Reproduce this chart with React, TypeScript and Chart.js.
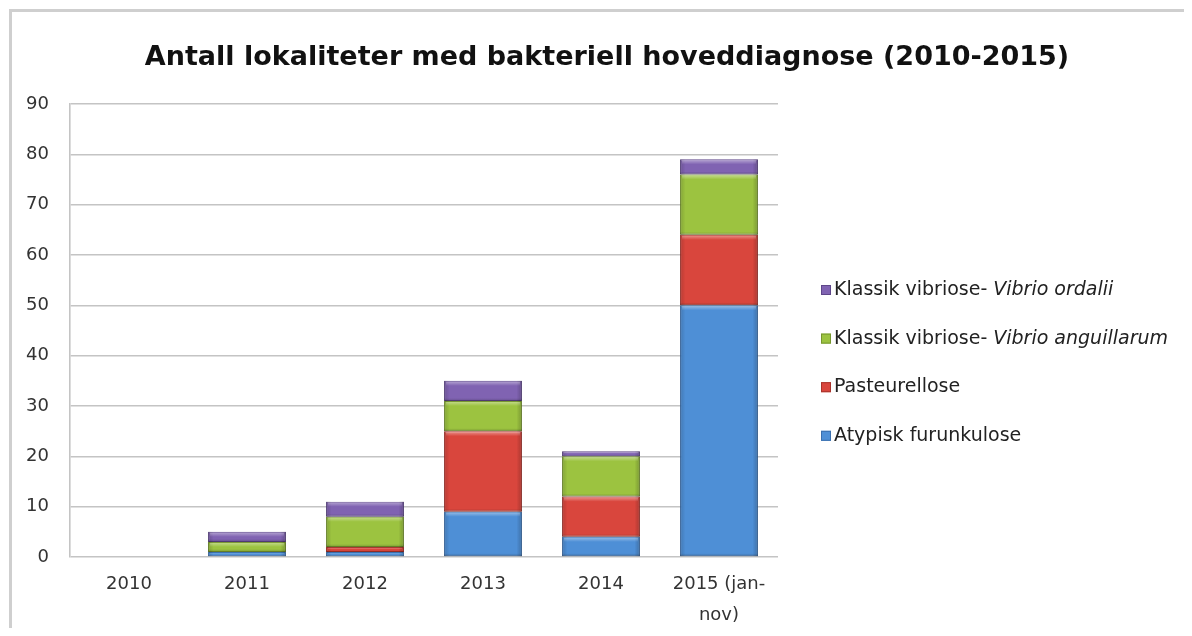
import React, { useEffect, useRef } from "react";
import { Chart, registerables } from "chart.js";

Chart.register(...registerables);

// ---- data ----
const categories: (string | string[])[] = ["2010", "2011", "2012", "2013", "2014", ["2015 (jan-", "nov)"]];
const atypiskFurunkulose = [0, 1, 1, 9, 4, 50];
const pasteurellose = [0, 0, 1, 16, 8, 14];
const vibrioAnguillarum = [0, 2, 6, 6, 8, 12];
const vibrioOrdalii = [0, 2, 3, 4, 1, 3];
const yMin = 0;
const yMax = 90;
const yStep = 10;
const titleText = "Antall lokaliteter med bakteriell hoveddiagnose (2010-2015)";
// legend entries (top to bottom): [normal part, italic part]
const legendNormal = ["Klassik vibriose- ", "Klassik vibriose- ", "Pasteurellose", "Atypisk furunkulose"];
const legendItalic = ["Vibrio ordalii", "Vibrio anguillarum", "", ""];

const FONT = "'DejaVu Sans', sans-serif";
const COLORS = {
  blue: "#4e8fd6",
  blueB: "#3a6fae",
  red: "#d9463d",
  redB: "#a8332c",
  green: "#9cc340",
  greenB: "#76952e",
  purple: "#8063b2",
  purpleB: "#5e4689",
};
const legendColors = [COLORS.purple, COLORS.green, COLORS.red, COLORS.blue];
const legendBorders = [COLORS.purpleB, COLORS.greenB, COLORS.redB, COLORS.blueB];

const bevelPlugin = {
  id: "bevel",
  afterDatasetsDraw(chart: any) {
    const ctx = chart.ctx as CanvasRenderingContext2D;
    chart.data.datasets.forEach((_ds: any, i: number) => {
      const meta = chart.getDatasetMeta(i);
      meta.data.forEach((el: any) => {
        const { x, y, base, width } = el.getProps(["x", "y", "base", "width"], true);
        const top = Math.min(y, base);
        const bottom = Math.max(y, base);
        const h = bottom - top;
        if (h < 1) return;
        const left = x - width / 2;
        ctx.save();
        const g = ctx.createLinearGradient(left, 0, left + width, 0);
        g.addColorStop(0, "rgba(0,0,0,0.16)");
        g.addColorStop(0.07, "rgba(0,0,0,0)");
        g.addColorStop(0.93, "rgba(0,0,0,0)");
        g.addColorStop(1, "rgba(0,0,0,0.22)");
        ctx.fillStyle = g;
        ctx.fillRect(left, top, width, h);
        const hh = Math.min(5, h / 2);
        const g2 = ctx.createLinearGradient(0, top, 0, top + hh);
        g2.addColorStop(0, "rgba(255,255,255,0.45)");
        g2.addColorStop(1, "rgba(255,255,255,0)");
        ctx.fillStyle = g2;
        ctx.fillRect(left + 2, top + 1, width - 4, hh);
        const hb = Math.min(3, h / 3);
        const g3 = ctx.createLinearGradient(0, bottom - hb, 0, bottom);
        g3.addColorStop(0, "rgba(0,0,0,0)");
        g3.addColorStop(1, "rgba(0,0,0,0.2)");
        ctx.fillStyle = g3;
        ctx.fillRect(left, bottom - hb, width, hb);
        ctx.restore();
      });
    });
  },
};

const decorPlugin = {
  id: "decor",
  afterDraw(chart: any) {
    const ctx = chart.ctx as CanvasRenderingContext2D;
    ctx.save();
    // title
    ctx.font = `bold 27px ${FONT}`;
    ctx.fillStyle = "#111111";
    ctx.textAlign = "center";
    ctx.textBaseline = "middle";
    ctx.fillText(titleText, 599, 50);
    // legend
    const x0 = 813;
    const y0 = 282;
    const step = 48.6;
    ctx.textAlign = "left";
    for (let i = 0; i < legendNormal.length; i++) {
      const cy = y0 + i * step;
      ctx.fillStyle = legendColors[i];
      ctx.fillRect(x0, cy - 5, 10, 10);
      ctx.strokeStyle = legendBorders[i];
      ctx.lineWidth = 1;
      ctx.strokeRect(x0 + 0.5, cy - 4.5, 9, 9);
      ctx.font = `19px ${FONT}`;
      ctx.fillStyle = "#222222";
      ctx.fillText(legendNormal[i], x0 + 13, cy);
      const w = ctx.measureText(legendNormal[i]).width;
      if (legendItalic[i]) {
        ctx.font = `oblique 19px ${FONT}`;
        ctx.fillText(legendItalic[i], x0 + 13 + w, cy);
      }
    }
    ctx.restore();
  },
};

export default function App() {
  const ref = useRef<HTMLCanvasElement | null>(null);
  useEffect(() => {
    if (!ref.current) return;
    const noZero = (c: any) => (c.raw === 0 ? 0 : 1);
    const chart = new Chart(ref.current, {
      type: "bar",
      data: {
        labels: categories as any,
        datasets: [
          { label: "Atypisk furunkulose", data: atypiskFurunkulose, backgroundColor: COLORS.blue, borderColor: COLORS.blueB, borderWidth: noZero, borderSkipped: false },
          { label: "Pasteurellose", data: pasteurellose, backgroundColor: COLORS.red, borderColor: COLORS.redB, borderWidth: noZero, borderSkipped: false },
          { label: "Klassik vibriose- Vibrio anguillarum", data: vibrioAnguillarum, backgroundColor: COLORS.green, borderColor: COLORS.greenB, borderWidth: noZero, borderSkipped: false },
          { label: "Klassik vibriose- Vibrio ordalii", data: vibrioOrdalii, backgroundColor: COLORS.purple, borderColor: COLORS.purpleB, borderWidth: noZero, borderSkipped: false },
        ] as any,
      },
      options: {
        responsive: false,
        animation: false,
        layout: { padding: { top: 96, right: 406, bottom: 0, left: 0 } },
        datasets: { bar: { categoryPercentage: 1, barPercentage: 0.66 } } as any,
        plugins: {
          legend: { display: false },
          title: { display: false },
          tooltip: { enabled: false },
        },
        scales: {
          x: {
            stacked: true,
            grid: { display: false, drawTicks: false },
            border: { display: false },
            ticks: {
              color: "#333333",
              font: { family: FONT, size: 18, lineHeight: 1.7 },
              padding: 12,
              maxRotation: 0,
              autoSkip: false,
            },
            afterFit(scale: any) {
              scale.height = 71;
            },
          },
          y: {
            stacked: true,
            min: yMin,
            max: yMax,
            grid: { color: "#c4c4c4", lineWidth: 1.6, drawTicks: false },
            border: { display: true, color: "#c4c4c4", width: 1.6 },
            ticks: {
              stepSize: yStep,
              color: "#333333",
              font: { family: FONT, size: 18 },
              padding: 21,
            },
            afterFit(scale: any) {
              scale.width = 62;
            },
          },
        },
      },
      plugins: [bevelPlugin, decorPlugin],
    });
    return () => chart.destroy();
  }, []);

  return (
    <div style={{ position: "relative", width: 1176, height: 620 }}>
      <div
        style={{
          position: "absolute",
          left: 1,
          top: 1,
          right: 0,
          bottom: 0,
          borderTop: "3px solid #cfcfcf",
          borderLeft: "3px solid #cfcfcf",
        }}
      />
      <canvas ref={ref} width={1176} height={620} style={{ position: "absolute", left: 0, top: 0 }} />
    </div>
  );
}
